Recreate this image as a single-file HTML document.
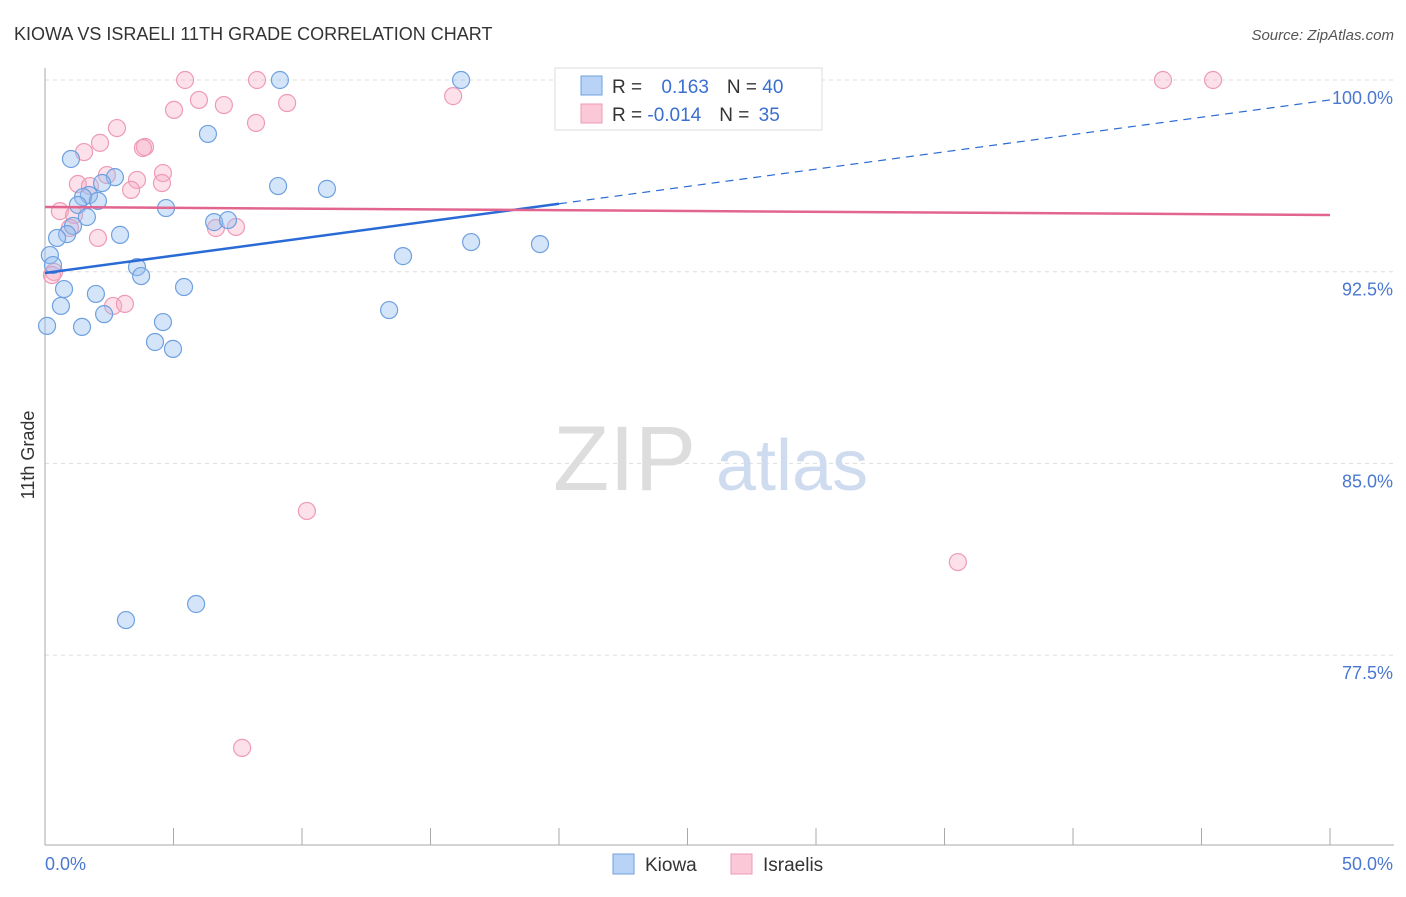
<!DOCTYPE html>
<html><head><meta charset="utf-8"><style>
body{margin:0;background:#fff;font-family:"Liberation Sans",sans-serif}
svg text{font-family:"Liberation Sans",sans-serif}
</style></head><body>
<svg id="chart" width="1406" height="892">
<text x="14" y="40" font-size="18" fill="#333">KIOWA VS ISRAELI 11TH GRADE CORRELATION CHART</text>
<text x="1394" y="40" font-size="15" fill="#555" font-style="italic" text-anchor="end">Source: ZipAtlas.com</text>
<g id="grid"></g>
<g><text x="553" y="490" font-size="92" fill="#ddd" font-family="Liberation Serif">ZIP</text><text x="716" y="490" font-size="72" fill="#cfdcf0">atlas</text></g>
<text transform="translate(34,455) rotate(-90)" font-size="18" fill="#333" text-anchor="middle">11th Grade</text>
<g id="pts"></g>
<g id="trend"></g>
<g>
<rect x="555" y="68" width="267" height="62" fill="#fff" stroke="#ddd"/>
<rect x="581" y="76" width="21" height="19" fill="#b8d3f5" stroke="#6fa0e0"/>
<rect x="581" y="104" width="21" height="19" fill="#fbc8d8" stroke="#ef9ab5"/>
<text x="612" y="93" font-size="19" fill="#333">R = <tspan fill="#3a6fd0" dx="14">0.163</tspan><tspan fill="#333" dx="18">N = </tspan><tspan fill="#3a6fd0">40</tspan></text>
<text x="612" y="121" font-size="19" fill="#333">R = <tspan fill="#3a6fd0">-0.014</tspan><tspan fill="#333" dx="18">N = </tspan><tspan fill="#3a6fd0" dx="4">35</tspan></text>
</g>
<g>
<rect x="613" y="854" width="21" height="20" fill="#b8d3f5" stroke="#6fa0e0"/>
<text x="645" y="871" font-size="19" fill="#333">Kiowa</text>
<rect x="731" y="854" width="21" height="20" fill="#fbc8d8" stroke="#ef9ab5"/>
<text x="763" y="871" font-size="19" fill="#333">Israelis</text>
</g>
</svg>
<script>
const blueX=[9.14,16.19,6.34,1.01,2.72,2.22,9.07,10.97,1.71,1.48,2.06,1.28,4.71,1.63,6.58,7.12,1.09,2.92,0.86,0.47,16.58,19.26,13.93,0.19,0.31,3.58,3.74,5.41,0.74,1.98,0.62,2.30,13.39,4.59,1.44,0.08,4.28,4.98,5.88,3.15];
const blueY=[100,100,97.89,96.91,96.2,95.97,95.85,95.74,95.5,95.42,95.27,95.11,94.99,94.64,94.44,94.52,94.29,93.94,93.97,93.82,93.66,93.58,93.11,93.15,92.76,92.68,92.33,91.9,91.82,91.63,91.16,90.84,91.0,90.53,90.34,90.38,89.75,89.48,79.5,78.87];
const pinkX=[5.45,8.25,43.5,45.45,5.99,5.02,6.96,9.42,15.88,2.80,8.21,2.14,1.52,3.89,3.81,4.59,2.41,3.58,1.28,1.75,4.55,3.35,0.58,1.13,0.97,2.06,6.65,7.43,0.35,0.27,2.65,3.11,10.19,35.52,7.67];
const pinkY=[100,100,100,100,99.22,98.83,99.02,99.1,99.37,98.12,98.32,97.54,97.18,97.38,97.34,96.36,96.28,96.09,95.93,95.85,95.97,95.70,94.87,94.72,94.21,93.82,94.21,94.25,92.49,92.37,91.16,91.24,83.14,81.14,73.87];
const yTicks=[100,92.5,85,77.5];
const yTickLabels=["100.0%","92.5%","85.0%","77.5%"];
const blueTrend=[92.45,99.22];
const pinkTrend=[95.03,94.72];
const NS="http://www.w3.org/2000/svg";
const sx=v=>45+v/50*1285;
const sy=v=>80+(100-v)/7.5*191.7;
function mk(tag,attrs,parent){const e=document.createElementNS(NS,tag);for(const k in attrs)e.setAttribute(k,attrs[k]);parent.appendChild(e);return e;}
const grid=document.getElementById('grid');
yTicks.forEach((t,i)=>{
 const l=mk('line',{x1:45,x2:1394,y1:sy(t),y2:sy(t),stroke:'#ddd','stroke-dasharray':'4,4'},grid);
 
 
 const tx=mk('text',{x:1393,y:sy(t)+24,'font-size':18,fill:'#4a78d0','text-anchor':'end'},grid);
 tx.textContent=yTickLabels[i];
 
 
});
let ax=mk('line',{x1:45,x2:45,y1:68,y2:845,stroke:'#aaa'},grid);


ax=mk('line',{x1:45,x2:1394,y1:845,y2:845,stroke:'#aaa'},grid);


for(let i=0;i<=10;i++){
 const t=mk('line',{x1:sx(i*5),x2:sx(i*5),y1:828,y2:845,stroke:'#aaa'},grid);
 
 
}
let xl=mk('text',{x:45,y:870,'font-size':18,fill:'#4a78d0'},grid);xl.textContent='0.0%';


xl=mk('text',{x:1393,y:870,'font-size':18,fill:'#4a78d0','text-anchor':'end'},grid);xl.textContent='50.0%';


const pts=document.getElementById('pts');
pinkX.forEach((x,i)=>{const c=mk('circle',{cx:sx(x),cy:sy(pinkY[i]),r:8.5,fill:'rgba(246,170,195,0.35)',stroke:'#ef9ab5','stroke-width':1.2},pts);
 
 });
blueX.forEach((x,i)=>{const c=mk('circle',{cx:sx(x),cy:sy(blueY[i]),r:8.5,fill:'rgba(150,190,240,0.4)',stroke:'#6fa0e0','stroke-width':1.2},pts);
 
 });
const tr=document.getElementById('trend');
const by=x=>blueTrend[0]+(blueTrend[1]-blueTrend[0])*x/50;
let l=mk('line',{x1:sx(0),y1:sy(by(0)),x2:sx(20),y2:sy(by(20)),stroke:'#2a6ad6','stroke-width':2.5},tr);


l=mk('line',{x1:sx(20),y1:sy(by(20)),x2:sx(50),y2:sy(by(50)),stroke:'#2a6ad6','stroke-width':1.2,'stroke-dasharray':'8,6'},tr);


l=mk('line',{x1:sx(0),y1:sy(pinkTrend[0]),x2:sx(50),y2:sy(pinkTrend[1]),stroke:'#e2658f','stroke-width':2.5},tr);


</script>
</body></html>
